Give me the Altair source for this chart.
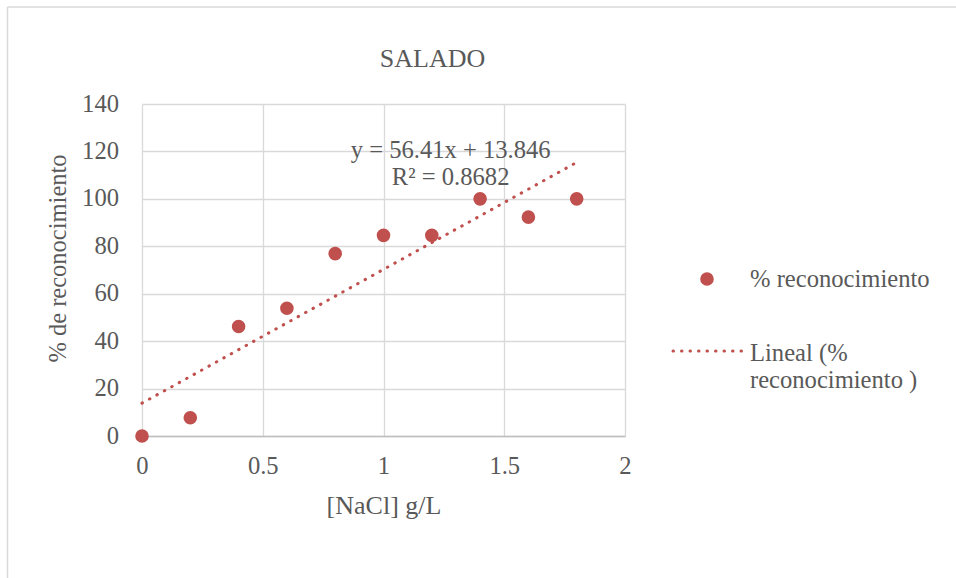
import altair as alt
import pandas as pd

# ---- data ----
conc = [0, 0.2, 0.4, 0.6, 0.8, 1.0, 1.2, 1.4, 1.6, 1.8]
recon = [0, 7.69, 46.15, 53.85, 76.92, 84.62, 84.62, 100, 92.31, 100]
x_ticks = [0, 0.5, 1, 1.5, 2]
y_ticks = [0, 20, 40, 60, 80, 100, 120, 140]
eq_lines = ["y = 56.41x + 13.846", "R² = 0.8682"]
legend_point_label = ["% reconocimiento"]
legend_line_label = ["Lineal (%", "reconocimiento )"]
chart_title = "SALADO"
x_title = "[NaCl] g/L"
y_title = "% de reconocimiento"

df = pd.DataFrame({"conc": conc, "recon": recon})
one = pd.DataFrame({"k": [0]})

RED = "#C0504D"
GRAY = "#595959"
FONT = "Liberation Serif"
FS = 24.6
DASH = [0.5, 8]

x_scale = alt.Scale(domain=[0, 2], nice=False, zero=False)
y_scale = alt.Scale(domain=[0, 140], nice=False)

x_axis = alt.Axis(values=x_ticks, title=x_title, format="~g", labelFlush=False,
                  labelOverlap=False, tickSize=0, ticks=False, labelPadding=18,
                  domainColor="#BFBFBF", domainWidth=1.5, titleFontSize=26,
                  titleBaseline="alphabetic", titleY=77, labelBaseline="top",
                  gridColor="#D9D9D9", gridWidth=1.3, labelColor=GRAY, labelFont=FONT,
                  labelFontSize=FS, titleColor=GRAY, titleFont=FONT,
                  titleFontWeight="normal")
y_axis = alt.Axis(values=y_ticks, title=y_title, format="d", labelOverlap=False,
                  tickSize=0, ticks=False, labelPadding=23.5, domain=False,
                  titleFontSize=24.5, titleBaseline="alphabetic", titleX=-77, titleY=154,
                  titleAngle=-90, gridColor="#D9D9D9", gridWidth=1.3, labelColor=GRAY,
                  labelFont=FONT, labelFontSize=FS, titleColor=GRAY, titleFont=FONT,
                  titleFontWeight="normal")

points = alt.Chart(df).mark_point(filled=True, size=185, color=RED, opacity=1).encode(
    x=alt.X("conc:Q", scale=x_scale, axis=x_axis),
    y=alt.Y("recon:Q", scale=y_scale, axis=y_axis),
)

trend = alt.Chart(df).transform_regression(
    "conc", "recon", extent=[0, 1.8]
).mark_line(color=RED, strokeWidth=3, strokeDash=DASH, strokeCap="round").encode(
    x=alt.X("conc:Q", scale=x_scale),
    y=alt.Y("recon:Q", scale=y_scale),
)

equation = alt.Chart(one).mark_text(
    font=FONT, fontSize=FS, color=GRAY, align="center", baseline="alphabetic", lineHeight=27
).encode(
    x=alt.datum(1.278), y=alt.datum(117.2), text=alt.value(eq_lines)
)

title_txt = alt.Chart(one).mark_text(
    font=FONT, fontSize=26, color=GRAY, align="center", baseline="alphabetic"
).encode(x=alt.value(290.5), y=alt.value(-36.7), text=alt.value(chart_title))

leg_pt = alt.Chart(one).mark_point(filled=True, size=185, color=RED, opacity=1).encode(
    x=alt.value(565), y=alt.value(175)
)
leg_pt_txt = alt.Chart(one).mark_text(
    font=FONT, fontSize=FS, color=GRAY, align="left", baseline="alphabetic"
).encode(x=alt.value(608), y=alt.value(183), text=alt.value(legend_point_label[0]))
leg_line = alt.Chart(one).mark_rule(color=RED, strokeWidth=3, strokeDash=DASH,
                                    strokeCap="round").encode(
    x=alt.value(531), x2=alt.value(600), y=alt.value(247)
)
leg_line_txt = alt.Chart(one).mark_text(
    font=FONT, fontSize=FS, color=GRAY, align="left", baseline="alphabetic", lineHeight=27
).encode(x=alt.value(608), y=alt.value(257), text=alt.value(legend_line_label))

frame_left = alt.Chart(one).mark_rule(color="#D9D9D9", strokeWidth=1.5).encode(
    x=alt.value(-134.5), y=alt.value(-97), y2=alt.value(600)
)
frame_top = alt.Chart(one).mark_rule(color="#D9D9D9", strokeWidth=1.5).encode(
    x=alt.value(-134.5), x2=alt.value(900), y=alt.value(-97)
)

chart = alt.layer(
    frame_left, frame_top, trend, points, equation, title_txt,
    leg_pt, leg_pt_txt, leg_line, leg_line_txt
).properties(
    width=483,
    height=332,
    autosize=alt.AutoSizeParams(type="none"),
    padding={"left": 142, "top": 104, "right": 331, "bottom": 142},
    background="white",
).configure_view(stroke=None)

chart.save("out.html", embed_options={"renderer": "svg", "actions": False})
